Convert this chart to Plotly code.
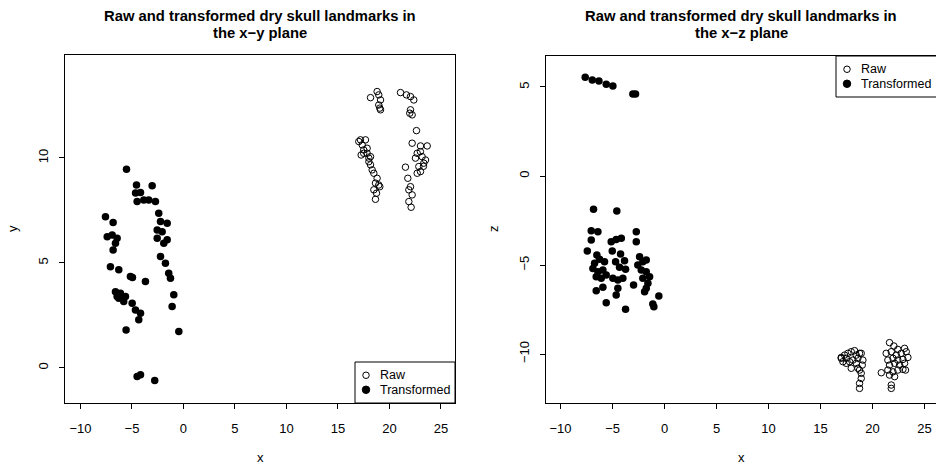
import plotly.graph_objects as go

# ---- x-y plane ----
xy_raw_x = [18.16, 18.8, 18.96, 19.13, 18.96, 19.13, 19.06,
            21.07, 21.65, 22.04, 22.36, 22.04, 22.2, 21.97, 22.62,
            17.18, 17.67, 17.35, 17.5, 17.83, 18.16, 18.0, 18.16, 18.32, 18.48,
            18.8, 18.64, 18.96, 18.48, 18.74, 18.64,
            17.02, 17.83, 17.5, 17.25, 18.0, 19.06,
            22.2, 23.01, 23.66, 22.69, 23.17, 23.5, 22.52, 23.33, 22.85, 23.01,
            22.69, 21.55, 21.78, 22.04, 21.88, 22.2, 21.88, 22.1, 23.0, 23.3]
xy_raw_y = [12.87, 13.16, 13.0, 12.76, 12.52, 12.29, 12.37,
            13.11, 13.0, 12.92, 12.76, 12.29, 12.05, 12.13, 11.3,
            10.86, 10.86, 10.62, 10.38, 10.22, 10.06, 9.82, 9.67, 9.43, 9.27,
            9.03, 8.8, 8.71, 8.48, 8.32, 8.03,
            10.78, 10.46, 10.22, 10.14, 9.99, 8.63,
            10.7, 10.57, 10.57, 10.22, 10.06, 9.9, 9.99, 9.75, 9.59, 9.35,
            9.27, 9.56, 9.03, 8.63, 8.48, 8.24, 7.92, 7.65, 10.3, 9.6]

xy_tr_x = [-5.53, -4.56, -3.04, -4.65, -4.17, -4.5, -3.85, -3.37, -2.72,
           -7.57, -6.83, -7.4, -6.92, -6.44, -6.6, -6.83,
           -2.4, -2.23, -1.58, -2.55, -2.07, -1.58, -2.55, -1.91,
           -2.23, -1.75, -1.43, -1.26, -7.09, -6.28, -5.15, -4.95, -3.69,
           -6.6, -6.12, -6.28, -5.8, -6.44, -5.63,
           -4.98, -4.66, -4.17, -4.34, -0.94, -1.1, -5.57, -0.45,
           -4.5, -4.17, -2.79]
xy_tr_y = [9.46, 8.71, 8.67, 8.33, 8.35, 7.92, 8.0, 8.0, 7.92,
           7.2, 6.92, 6.25, 6.33, 6.17, 5.94, 5.62,
           7.37, 6.97, 6.89, 6.57, 6.49, 6.1, 6.17, 5.94,
           5.3, 4.99, 4.51, 4.27, 4.82, 4.67, 4.35, 4.3, 4.11,
           3.63, 3.56, 3.32, 3.16, 3.4, 3.4,
           3.08, 2.76, 2.6, 2.29, 3.48, 2.92, 1.81, 1.73,
           -0.41, -0.33, -0.6]

# ---- x-z plane ----
xz_raw_x = [16.99, 17.31, 17.63, 17.95, 18.27, 18.75, 18.91,
            17.15, 17.47, 17.79, 18.11, 18.43, 17.95, 18.59, 18.75,
            18.91, 18.91, 18.75, 18.75,
            16.99, 17.47, 18.43, 18.59, 19.07, 19.01,
            21.63, 22.05, 22.43, 23.08,
            21.31, 21.8, 22.28, 22.76, 23.24, 23.4,
            21.47, 21.96, 22.43, 22.92, 21.63, 22.12, 22.6, 23.08,
            20.84, 21.47, 21.96, 22.43, 22.92, 23.17,
            21.63, 22.12, 21.8, 21.8]
xz_raw_z = [-10.19, -10.06, -9.96, -9.87, -9.81, -9.96, -9.96,
            -10.43, -10.52, -10.43, -10.34, -10.52, -10.8, -10.8, -10.9,
            -11.08, -11.37, -11.65, -11.93,
            -10.24, -10.24, -10.06, -10.24, -10.34, -10.62,
            -9.36, -9.55, -9.74, -9.68,
            -9.96, -9.87, -10.06, -9.96, -9.87, -10.19,
            -10.34, -10.24, -10.34, -10.3, -10.62, -10.52, -10.62, -10.52,
            -11.05, -10.9, -11.0, -10.9, -10.86, -10.9,
            -11.18, -11.27, -11.74, -11.93]

xz_tr_x = [-7.63, -6.95, -6.31, -5.61, -4.97, -3.05, -2.79,
           -6.83, -4.59, -7.05, -6.41, -7.05, -2.72, -2.72,
           -5.13, -4.65, -4.16, -7.43, -5.03, -4.23,
           -6.51, -6.25, -6.73, -5.77, -2.4, -2.09, -1.76, -2.57,
           -4.71, -3.85, -4.33, -3.75,
           -6.89, -6.41, -5.93, -6.57, -6.09, -5.61,
           -2.24, -1.76, -1.44, -2.09, -1.6,
           -4.97, -4.49, -4.01, -2.98, -5.93, -6.57, -4.49, -4.65,
           -1.92, -1.76, -0.55, -5.61, -1.13, -1.03, -3.75]
xz_tr_z = [5.54, 5.39, 5.34, 5.15, 5.06, 4.61, 4.61,
           -1.87, -1.97, -3.07, -3.13, -3.6, -3.13, -3.69,
           -3.69, -3.56, -3.5, -4.21, -4.21, -4.38,
           -4.44, -4.68, -4.9, -4.81, -4.53, -4.81, -4.72, -5.0,
           -4.81, -4.76, -5.13, -5.24,
           -5.19, -5.38, -5.28, -5.66, -5.75, -5.56,
           -5.28, -5.38, -5.66, -5.75, -6.03,
           -5.75, -5.84, -5.75, -6.12, -6.25, -6.44, -6.31, -6.69,
           -6.5, -6.31, -6.74, -7.12, -7.19, -7.34, -7.49]

x_ticks = [-10, -5, 0, 5, 10, 15, 20, 25]
y_ticks = [0, 5, 10]
z_ticks = [-10, -5, 0, 5]
legend_labels = ["Raw", "Transformed"]

FONT = "Liberation Sans, Arial, Helvetica, sans-serif"
W, H = 936, 466

RAW_SIZE, TR_SIZE = 6.5, 7.5
raw_marker = dict(symbol="circle-open", size=RAW_SIZE, color="black", line=dict(width=1, color="black"))
tr_marker = dict(symbol="circle", size=TR_SIZE, color="black")

fig = go.Figure()
fig.add_trace(go.Scatter(x=xy_raw_x, y=xy_raw_y, mode="markers", name="Raw",
                         marker=raw_marker, xaxis="x", yaxis="y"))
fig.add_trace(go.Scatter(x=xy_tr_x, y=xy_tr_y, mode="markers", name="Transformed",
                         marker=tr_marker, xaxis="x", yaxis="y"))
fig.add_trace(go.Scatter(x=xz_raw_x, y=xz_raw_z, mode="markers", name="Raw",
                         marker=raw_marker, xaxis="x2", yaxis="y2"))
fig.add_trace(go.Scatter(x=xz_tr_x, y=xz_tr_z, mode="markers", name="Transformed",
                         marker=tr_marker, xaxis="x2", yaxis="y2"))


def px_x(p):
    return p / W


def px_y(p):
    return 1 - p / H


axis_common = dict(
    showgrid=False, zeroline=False, showline=True, linecolor="black", linewidth=1,
    ticks="outside", ticklen=5, tickcolor="black", tickwidth=1,
    tickfont=dict(family=FONT, size=13, color="black"),
)

fig.update_layout(
    width=W, height=H,
    margin=dict(l=0, r=0, t=0, b=0),
    paper_bgcolor="white", plot_bgcolor="white",
    showlegend=False,
    font=dict(family=FONT, size=13, color="black"),
    xaxis=dict(domain=[px_x(65), px_x(455)], range=[-11.5, 26.36], anchor="y",
               tickvals=x_ticks, mirror=True, ticklabelstandoff=8, **axis_common),
    yaxis=dict(domain=[px_y(403), px_y(55)], range=[-1.67, 14.9], anchor="x",
               tickvals=y_ticks, mirror=True, tickangle=-90, ticklabelstandoff=6,
               **axis_common),
    xaxis2=dict(domain=[px_x(546), 1.0], range=[-11.4, 26.1], anchor="y2",
                tickvals=x_ticks, mirror=True, ticklabelstandoff=8, **axis_common),
    yaxis2=dict(domain=[px_y(403), px_y(56)], range=[-12.75, 6.74], anchor="x2",
                tickvals=z_ticks, tickangle=-90, ticklabelstandoff=6, **axis_common),
)

shapes = []
annotations = []

# Boxed keys: (left, top, right, bottom) in pixels; the right-hand key runs off the page edge
KEY_ROW_GAP = 14.5
for left, top, right, bottom in [(355, 362, 455, 403), (836, 56, 950, 97)]:
    shapes.append(dict(type="rect", xref="paper", yref="paper",
                       x0=px_x(left), x1=px_x(right), y0=px_y(bottom), y1=px_y(top),
                       line=dict(color="black", width=1), fillcolor="white", layer="above"))
    first_row = (top + bottom) / 2 - KEY_ROW_GAP / 2
    for i, label in enumerate(legend_labels):
        row = first_row + i * KEY_ROW_GAP
        is_raw = label == "Raw"
        r = (RAW_SIZE if is_raw else TR_SIZE) / 2
        shapes.append(dict(type="circle", xref="paper", yref="paper",
                           xsizemode="pixel", ysizemode="pixel",
                           xanchor=px_x(left + 11), yanchor=px_y(row),
                           x0=-r, x1=r, y0=-r, y1=r,
                           line=dict(color="black", width=1),
                           fillcolor="white" if is_raw else "black", layer="above"))
        annotations.append(dict(text=label, x=px_x(left + 23), y=px_y(row),
                                xref="paper", yref="paper", showarrow=False,
                                xanchor="left", yanchor="middle",
                                font=dict(family=FONT, size=12.5, color="black")))

title_font = dict(family=FONT, size=14.8, color="black")
for cx, plane in [(260, "x\u2212y"), (741, "x\u2212z")]:
    annotations.append(dict(text="<b>Raw and transformed dry skull landmarks in</b>",
                            x=px_x(cx), y=px_y(16), xref="paper", yref="paper",
                            showarrow=False, xanchor="center", yanchor="middle", font=title_font))
    annotations.append(dict(text=f"<b>the {plane} plane</b>",
                            x=px_x(cx), y=px_y(33), xref="paper", yref="paper",
                            showarrow=False, xanchor="center", yanchor="middle", font=title_font))
    annotations.append(dict(text="x", x=px_x(cx), y=px_y(457), xref="paper", yref="paper",
                            showarrow=False, xanchor="center", yanchor="middle",
                            font=dict(family=FONT, size=13, color="black")))

annotations.append(dict(text="y", x=px_x(12), y=px_y(229), xref="paper", yref="paper",
                        showarrow=False, textangle=-90, xanchor="center", yanchor="middle",
                        font=dict(family=FONT, size=13, color="black")))
annotations.append(dict(text="z", x=px_x(493), y=px_y(229), xref="paper", yref="paper",
                        showarrow=False, textangle=-90, xanchor="center", yanchor="middle",
                        font=dict(family=FONT, size=13, color="black")))

fig.update_layout(shapes=shapes, annotations=annotations)

fig.write_html("out.html")
